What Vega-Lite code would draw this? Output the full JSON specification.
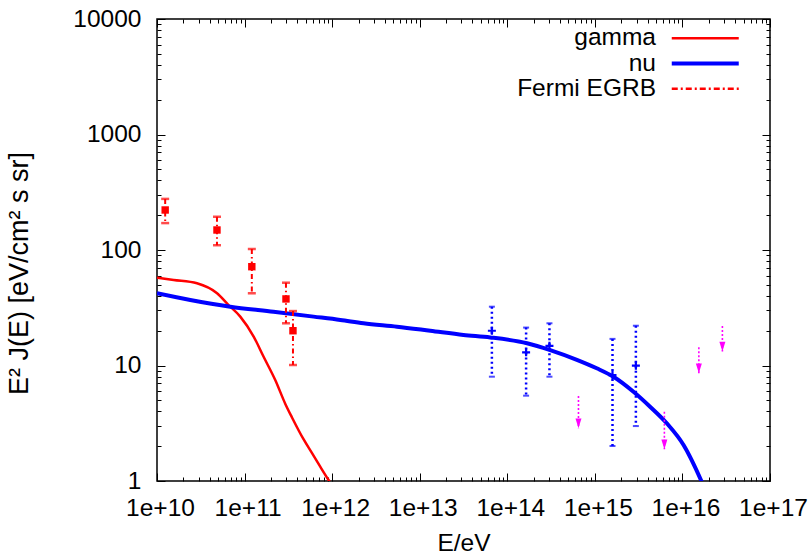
{
  "$schema": "https://vega.github.io/schema/vega-lite/v6.json",
  "width": 613,
  "height": 462,
  "autosize": {"type": "none"},
  "padding": {"left": 157, "top": 19, "right": 40, "bottom": 73},
  "background": "white",
  "config": {
    "font": "Liberation Sans",
    "view": {"stroke": "black", "strokeWidth": 1.5},
    "axis": {"grid": false, "domain": false, "tickColor": "black", "tickWidth": 1, "labelColor": "black", "titleColor": "black", "labelFont": "Liberation Sans", "titleFont": "Liberation Sans", "labelFontSize": 24.5, "titleFontSize": 24.5, "titleFontWeight": "normal"}
  },
  "datasets": {
    "curves": [
      {"series": "gamma", "E": 1e10, "F": 57.5},
      {"series": "gamma", "E": 1.55e10, "F": 55.0},
      {"series": "gamma", "E": 2.86e10, "F": 51.5},
      {"series": "gamma", "E": 4.85e10, "F": 42.2},
      {"series": "gamma", "E": 6.56e10, "F": 33.4},
      {"series": "gamma", "E": 8.93e10, "F": 26.5},
      {"series": "gamma", "E": 1.27e11, "F": 17.8},
      {"series": "gamma", "E": 1.65e11, "F": 11.9},
      {"series": "gamma", "E": 2.24e11, "F": 7.49},
      {"series": "gamma", "E": 2.92e11, "F": 4.65},
      {"series": "gamma", "E": 3.48e11, "F": 3.55},
      {"series": "gamma", "E": 4.71e11, "F": 2.3},
      {"series": "gamma", "E": 5.87e11, "F": 1.75},
      {"series": "gamma", "E": 7.31e11, "F": 1.33},
      {"series": "gamma", "E": 9.1e11, "F": 1.02},
      {"series": "gamma", "E": 1.0e12, "F": 0.916},
      {"series": "nu", "E": 1e10, "F": 42.2},
      {"series": "nu", "E": 2.4e10, "F": 36.9},
      {"series": "nu", "E": 6.87e10, "F": 32.3},
      {"series": "nu", "E": 2.14e11, "F": 29.2},
      {"series": "nu", "E": 6.13e11, "F": 26.5},
      {"series": "nu", "E": 1.24e12, "F": 24.8},
      {"series": "nu", "E": 2.28e12, "F": 23.2},
      {"series": "nu", "E": 5.5e12, "F": 21.7},
      {"series": "nu", "E": 1.32e13, "F": 20.0},
      {"series": "nu", "E": 3.16e13, "F": 18.4},
      {"series": "nu", "E": 6.38e13, "F": 17.5},
      {"series": "nu", "E": 1.68e14, "F": 15.6},
      {"series": "nu", "E": 3.09e14, "F": 13.6},
      {"series": "nu", "E": 6.23e14, "F": 11.2},
      {"series": "nu", "E": 1.05e15, "F": 9.46},
      {"series": "nu", "E": 1.63e15, "F": 8.0},
      {"series": "nu", "E": 2.76e15, "F": 5.93},
      {"series": "nu", "E": 4.27e15, "F": 4.40},
      {"series": "nu", "E": 6.63e15, "F": 3.16},
      {"series": "nu", "E": 1.03e16, "F": 2.05},
      {"series": "nu", "E": 1.66e16, "F": 0.986},
      {"series": "nu", "E": 1.75e16, "F": 0.9}
    ],
    "fermi": [
      {"E": 1.24e10, "F": 222, "lo": 171, "hi": 277},
      {"E": 4.84e10, "F": 149, "lo": 110, "hi": 194},
      {"E": 1.21e11, "F": 71.7, "lo": 42.2, "hi": 102},
      {"E": 2.97e11, "F": 37.7, "lo": 23.2, "hi": 52.1},
      {"E": 3.57e11, "F": 20.0, "lo": 10.1, "hi": 29.6}
    ],
    "nudata": [
      {"E": 6.67e13, "F": 20.0, "lo": 8.0, "hi": 32.3},
      {"E": 1.64e14, "F": 13.0, "lo": 5.48, "hi": 21.3},
      {"E": 3.03e14, "F": 14.8, "lo": 8.0, "hi": 23.2},
      {"E": 1.59e15, "F": 8.27, "lo": 2.01, "hi": 17.0},
      {"E": 2.94e15, "F": 9.96, "lo": 2.99, "hi": 22.1}
    ],
    "limits": [
      {"E": 6.5e14, "top": 5.44, "tip": 2.86},
      {"E": 6.22e15, "top": 3.98, "tip": 1.88},
      {"E": 1.54e16, "top": 14.4, "tip": 8.56},
      {"E": 2.86e16, "top": 22.0, "tip": 13.2}
    ]
  },
  "layer": [
    {
      "data": {"name": "curves"},
      "mark": {"type": "line", "clip": true, "interpolate": "monotone"},
      "encoding": {
        "x": {"field": "E", "type": "quantitative", "scale": {"type": "log", "domain": [1e10, 1e17], "nice": false},
          "axis": {"orient": "bottom", "values": [1e10, 1e11, 1e12, 1e13, 1e14, 1e15, 1e16, 1e17], "labelExpr": "'1e+' + round(log(datum.value)/LN10)", "ticks": false, "labelBaseline": "alphabetic", "labelPadding": 34, "labelOffset": 3, "labelFlush": false, "labelOverlap": false, "title": "E/eV", "titleBaseline": "alphabetic", "titleY": 69}},
        "y": {"field": "F", "type": "quantitative", "scale": {"type": "log", "domain": [1, 10000], "nice": false},
          "axis": {"orient": "left", "values": [1, 10, 100, 1000, 10000], "labelExpr": "format(datum.value, 'd')", "ticks": false, "labelPadding": 16, "labelBaseline": "middle", "labelFlush": false, "labelOverlap": false, "title": "E² J(E) [eV/cm² s sr]", "titleFontSize": 27, "titleAngle": -90, "titleAlign": "center", "titleBaseline": "alphabetic", "titleX": -130, "titleY": 254}},
        "color": {"field": "series", "type": "nominal",
          "scale": {"domain": ["gamma", "nu", "Fermi EGRB"], "range": ["#ff0000", "#0000ff", "#ff0000"]},
          "legend": {"title": null, "orient": "none", "legendX": 536, "legendY": 7, "padding": 0, "symbolType": "M-6.7,0H6.7", "symbolSize": 100, "symbolStrokeWidth": 2.5, "labelFontSize": 24.5, "labelFont": "Liberation Sans", "labelColor": "black", "rowPadding": 0.3, "labelBaseline": "middle",
            "encode": {
              "labels": {"update": {"x": {"value": -37}, "align": {"value": "right"}}},
              "symbols": {"update": {"strokeWidth": {"signal": "datum.value === 'nu' ? 4 : 2.5"}, "strokeDash": {"signal": "datum.value === 'Fermi EGRB' ? [6, 3, 2, 3] : [1, 0]"}, "fill": {"value": "transparent"}}}
            }}},
        "strokeWidth": {"condition": {"test": "datum.series === 'nu'", "value": 4}, "value": 2.5}
      }
    },
    {
      "data": {"name": "fermi"},
      "mark": {"type": "rule", "color": "#ff0000", "strokeWidth": 2, "strokeDash": [5, 3, 1.5, 3]},
      "encoding": {
        "x": {"field": "E", "type": "quantitative", "scale": {"type": "log", "domain": [1e10, 1e17], "nice": false},
          "axis": {"orient": "bottom", "values": [1e10, 1e11, 1e12, 1e13, 1e14, 1e15, 1e16, 1e17], "labels": false, "tickSize": -8, "title": null}},
        "y": {"field": "hi", "type": "quantitative", "scale": {"type": "log", "domain": [1, 10000], "nice": false},
          "axis": {"orient": "left", "values": [1, 10, 100, 1000, 10000], "labels": false, "tickSize": -8, "title": null}},
        "y2": {"field": "lo"}
      }
    },
    {
      "data": {"name": "fermi"},
      "mark": {"type": "tick", "orient": "horizontal", "color": "#ff0000", "size": 8, "thickness": 2.5},
      "encoding": {
        "x": {"field": "E", "type": "quantitative", "scale": {"type": "log", "domain": [1e10, 1e17], "nice": false},
          "axis": {"orient": "bottom", "values": [2e10, 3e10, 4e10, 5e10, 6e10, 7e10, 8e10, 9e10, 2e11, 3e11, 4e11, 5e11, 6e11, 7e11, 8e11, 9e11, 2e12, 3e12, 4e12, 5e12, 6e12, 7e12, 8e12, 9e12, 2e13, 3e13, 4e13, 5e13, 6e13, 7e13, 8e13, 9e13, 2e14, 3e14, 4e14, 5e14, 6e14, 7e14, 8e14, 9e14, 2e15, 3e15, 4e15, 5e15, 6e15, 7e15, 8e15, 9e15, 2e16, 3e16, 4e16, 5e16, 6e16, 7e16, 8e16, 9e16], "labels": false, "tickSize": -4, "title": null}},
        "y": {"field": "hi", "type": "quantitative", "scale": {"type": "log", "domain": [1, 10000], "nice": false},
          "axis": {"orient": "left", "values": [2, 3, 4, 5, 6, 7, 8, 9, 20, 30, 40, 50, 60, 70, 80, 90, 200, 300, 400, 500, 600, 700, 800, 900, 2000, 3000, 4000, 5000, 6000, 7000, 8000, 9000], "labels": false, "tickSize": -4, "title": null}}
      }
    },
    {
      "data": {"name": "fermi"},
      "mark": {"type": "tick", "orient": "horizontal", "color": "#ff0000", "size": 8, "thickness": 2.5},
      "encoding": {
        "x": {"field": "E", "type": "quantitative", "scale": {"type": "log", "domain": [1e10, 1e17], "nice": false},
          "axis": {"orient": "top", "values": [1e10, 1e11, 1e12, 1e13, 1e14, 1e15, 1e16, 1e17], "labels": false, "tickSize": -8, "title": null}},
        "y": {"field": "lo", "type": "quantitative", "scale": {"type": "log", "domain": [1, 10000], "nice": false},
          "axis": {"orient": "right", "values": [1, 10, 100, 1000, 10000], "labels": false, "tickSize": -8, "title": null}}
      }
    },
    {
      "data": {"name": "fermi"},
      "mark": {"type": "point", "shape": "square", "filled": true, "color": "#ff0000", "size": 55, "opacity": 1},
      "encoding": {
        "x": {"field": "E", "type": "quantitative", "scale": {"type": "log", "domain": [1e10, 1e17], "nice": false},
          "axis": {"orient": "top", "values": [2e10, 3e10, 4e10, 5e10, 6e10, 7e10, 8e10, 9e10, 2e11, 3e11, 4e11, 5e11, 6e11, 7e11, 8e11, 9e11, 2e12, 3e12, 4e12, 5e12, 6e12, 7e12, 8e12, 9e12, 2e13, 3e13, 4e13, 5e13, 6e13, 7e13, 8e13, 9e13, 2e14, 3e14, 4e14, 5e14, 6e14, 7e14, 8e14, 9e14, 2e15, 3e15, 4e15, 5e15, 6e15, 7e15, 8e15, 9e15, 2e16, 3e16, 4e16, 5e16, 6e16, 7e16, 8e16, 9e16], "labels": false, "tickSize": -4, "title": null}},
        "y": {"field": "F", "type": "quantitative", "scale": {"type": "log", "domain": [1, 10000], "nice": false},
          "axis": {"orient": "right", "values": [2, 3, 4, 5, 6, 7, 8, 9, 20, 30, 40, 50, 60, 70, 80, 90, 200, 300, 400, 500, 600, 700, 800, 900, 2000, 3000, 4000, 5000, 6000, 7000, 8000, 9000], "labels": false, "tickSize": -4, "title": null}}
      }
    },
    {
      "data": {"name": "nudata"},
      "mark": {"type": "rule", "color": "#0000ff", "strokeWidth": 2.5, "strokeDash": [2, 3]},
      "encoding": {
        "x": {"field": "E", "type": "quantitative", "scale": {"type": "log", "domain": [1e10, 1e17], "nice": false}, "axis": null},
        "y": {"field": "hi", "type": "quantitative", "scale": {"type": "log", "domain": [1, 10000], "nice": false}, "axis": null},
        "y2": {"field": "lo"}
      }
    },
    {
      "data": {"name": "nudata"},
      "mark": {"type": "tick", "orient": "horizontal", "color": "#0000ff", "size": 6, "thickness": 2, "strokeDash": [2, 2]},
      "encoding": {
        "x": {"field": "E", "type": "quantitative", "scale": {"type": "log", "domain": [1e10, 1e17], "nice": false}, "axis": null},
        "y": {"field": "hi", "type": "quantitative", "scale": {"type": "log", "domain": [1, 10000], "nice": false}, "axis": null}
      }
    },
    {
      "data": {"name": "nudata"},
      "mark": {"type": "tick", "orient": "horizontal", "color": "#0000ff", "size": 6, "thickness": 2, "strokeDash": [2, 2]},
      "encoding": {
        "x": {"field": "E", "type": "quantitative", "scale": {"type": "log", "domain": [1e10, 1e17], "nice": false}, "axis": null},
        "y": {"field": "lo", "type": "quantitative", "scale": {"type": "log", "domain": [1, 10000], "nice": false}, "axis": null}
      }
    },
    {
      "data": {"name": "nudata"},
      "mark": {"type": "point", "shape": "M-1,0H1M0,-1V1", "filled": false, "color": "#0000ff", "strokeWidth": 2.2, "size": 64, "opacity": 1},
      "encoding": {
        "x": {"field": "E", "type": "quantitative", "scale": {"type": "log", "domain": [1e10, 1e17], "nice": false}, "axis": null},
        "y": {"field": "F", "type": "quantitative", "scale": {"type": "log", "domain": [1, 10000], "nice": false}, "axis": null}
      }
    },
    {
      "data": {"name": "limits"},
      "mark": {"type": "rule", "color": "#ff00ff", "strokeWidth": 1.6, "strokeDash": [2, 2]},
      "encoding": {
        "x": {"field": "E", "type": "quantitative", "scale": {"type": "log", "domain": [1e10, 1e17], "nice": false}, "axis": null},
        "y": {"field": "top", "type": "quantitative", "scale": {"type": "log", "domain": [1, 10000], "nice": false}, "axis": null},
        "y2": {"field": "tip"}
      }
    },
    {
      "data": {"name": "limits"},
      "mark": {"type": "point", "shape": "M-1,-3.3L0,0L1,-3.3Z", "filled": true, "color": "#ff00ff", "size": 36, "opacity": 1},
      "encoding": {
        "x": {"field": "E", "type": "quantitative", "scale": {"type": "log", "domain": [1e10, 1e17], "nice": false}, "axis": null},
        "y": {"field": "tip", "type": "quantitative", "scale": {"type": "log", "domain": [1, 10000], "nice": false}, "axis": null}
      }
    }
  ],
  "resolve": {"axis": {"x": "independent", "y": "independent"}}
}
